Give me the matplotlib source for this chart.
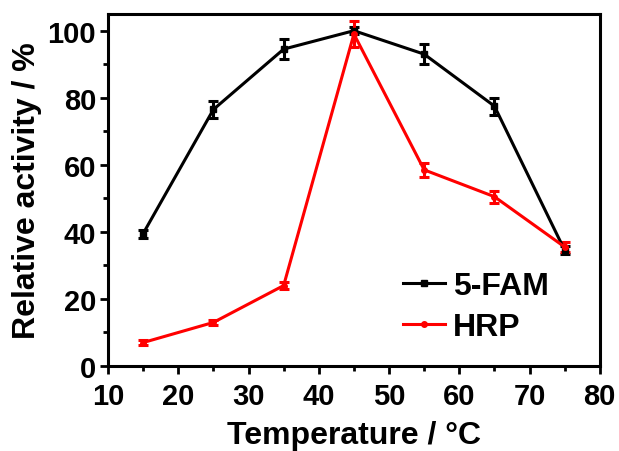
import matplotlib
matplotlib.use("Agg")
import matplotlib.pyplot as plt
from matplotlib.ticker import MultipleLocator
from matplotlib.lines import Line2D

plt.rcParams['font.family'] = ['Liberation Sans', 'DejaVu Sans']
plt.rcParams['font.weight'] = 'bold'

# temperature points
temp = [15, 25, 35, 45, 55, 65, 75]

# 5-FAM relative activity and error
fam = [39.5, 76.5, 94.5, 100, 93, 77.5, 34.5]
fam_err = [1.2, 2.5, 3, 1, 3, 2.5, 1.2]

# HRP relative activity and error
hrp = [7, 13, 24, 99, 58.5, 50.5, 35.5]
hrp_err = [0.8, 0.8, 1, 4, 2, 1.8, 1.5]

fig = plt.figure(figsize=(6.19, 4.52), dpi=100)
ax = fig.add_axes([0.1745, 0.188, 0.7945, 0.779])

ax.errorbar(temp, fam, yerr=fam_err, color='black', lw=2.2, marker='s', ms=4,
            capsize=3.5, elinewidth=2.2, capthick=2.2)
ax.errorbar(temp, hrp, yerr=hrp_err, color='red', lw=2.2, marker='o', ms=4,
            capsize=3.5, elinewidth=2.2, capthick=2.2)

ax.set_xlim(10, 80)
ax.set_ylim(0, 105)
ax.xaxis.set_major_locator(MultipleLocator(10))
ax.xaxis.set_minor_locator(MultipleLocator(5))
ax.yaxis.set_major_locator(MultipleLocator(20))
ax.yaxis.set_minor_locator(MultipleLocator(10))
ax.tick_params(which='major', length=5.5, width=2, labelsize=21)
ax.tick_params(axis='x', pad=6)
ax.tick_params(axis='y', pad=3)
ax.tick_params(which='minor', length=3.5, width=2)
ax.tick_params(top=False, right=False)
for s in ax.spines.values():
    s.set_linewidth(2.2)

ax.set_xlabel('Temperature / °C', fontsize=23, fontweight='bold', labelpad=7)
ax.set_ylabel('Relative activity / %', fontsize=23, fontweight='bold', labelpad=4)

# legend handles without error bars
handles = [Line2D([], [], color='black', lw=2.2, marker='s', ms=4),
           Line2D([], [], color='red', lw=2.2, marker='o', ms=4)]
ax.legend(handles, ['5-FAM', 'HRP'], loc='upper left', bbox_to_anchor=(0.60, 0.27),
          frameon=False, fontsize=23, handlelength=1.3, handletextpad=0.25,
          labelspacing=0.35, borderpad=0, borderaxespad=0)

fig.savefig('out.png', dpi=100)
